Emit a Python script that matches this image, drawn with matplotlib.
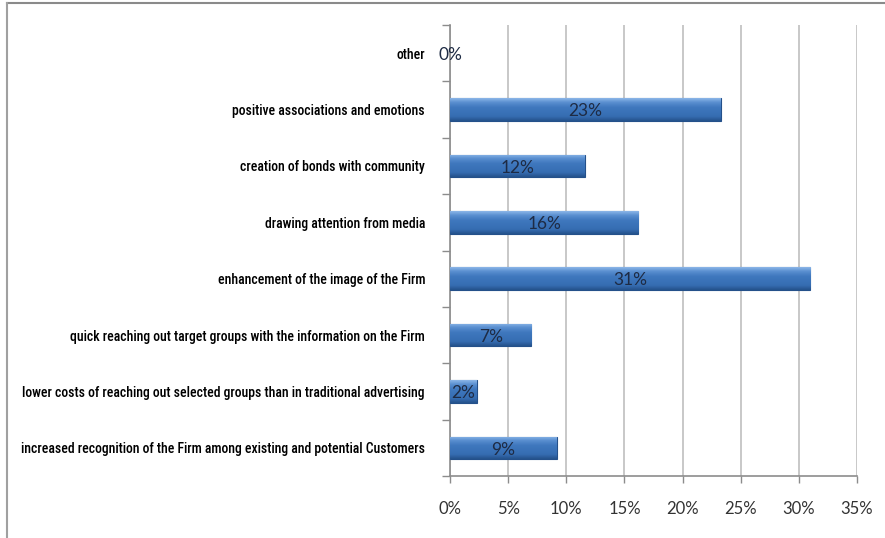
import matplotlib
matplotlib.use("Agg")
import matplotlib.pyplot as plt
import numpy as np
from matplotlib.lines import Line2D
from matplotlib.colors import LinearSegmentedColormap
from matplotlib import font_manager

# data (top to bottom as shown)
categories = [
    "other",
    "positive associations and emotions",
    "creation of bonds with community",
    "drawing attention from media",
    "enhancement of the image of the Firm",
    "quick reaching out target groups with the information on the Firm",
    "lower costs of reaching out selected groups than in traditional advertising",
    "increased recognition of the Firm among existing and potential Customers",
]
values = [0.0, 23.3, 11.6, 16.2, 31.0, 7.0, 2.3, 9.2]
bar_labels = ["0%", "23%", "12%", "16%", "31%", "7%", "2%", "9%"]
x_ticks = [0, 5, 10, 15, 20, 25, 30, 35]

# pick a condensed face if one is installed
names = {f.name for f in font_manager.fontManager.ttflist}
narrow = None
for cand in ["Liberation Sans Narrow", "DejaVu Sans Condensed", "Roboto Condensed",
             "Open Sans Condensed"]:
    if cand in names:
        narrow = cand
        break
cat_font = dict(family=[narrow or "DejaVu Sans", "DejaVu Sans"])
cat_size = 9.9 if narrow else 8.3
if narrow is None:
    cat_font["stretch"] = "condensed"

W, H = 885, 538
fig = plt.figure(figsize=(W / 100, H / 100), dpi=100)
ax = fig.add_axes([450 / W, 1 - 476 / H, (857 - 450) / W, (476 - 25) / H])

ypos = np.arange(len(categories))
bar_h = 0.4
bars = ax.barh(ypos, values, height=bar_h, color="#3D74B8",
               edgecolor="#24508A", linewidth=0.8, zorder=3)

# glossy gradient fill clipped to each bar (light top, dark bottom)
grad_cmap = LinearSegmentedColormap.from_list(
    "bevel", [(0, "#8CB6E8"), (0.18, "#5A8FD0"), (0.4, "#3F78BE"),
              (0.8, "#366DB2"), (1, "#24528C")])
grad = np.linspace(0, 1, 64).reshape(-1, 1)
for b, v, y in zip(bars, values, ypos):
    if v <= 0:
        b.set_visible(False)
        continue
    im = ax.imshow(grad, extent=[0, v, y + bar_h / 2, y - bar_h / 2],
                   aspect="auto", cmap=grad_cmap, origin="upper", zorder=3.5)
    im.set_clip_path(b)

for v, y, lab in zip(values, ypos, bar_labels):
    ax.text(v / 2, y + 0.03, lab, ha="center", va="center", fontsize=12.5,
            family=["Lato", "DejaVu Sans"], color="#1E2B44", zorder=5)

ax.set_xlim(0, 35)
ax.set_ylim(len(categories) - 0.5, -0.5)
ax.set_xticks(x_ticks)
ax.set_xticklabels([f"{t}%" for t in x_ticks], family=["Lato", "DejaVu Sans"],
                   fontsize=12, color="#333333")
ax.set_yticks(ypos)
ax.set_yticklabels(categories, fontsize=cat_size, color="#000000",
                   weight="medium", **cat_font)
ax.set_yticks(np.arange(len(categories) + 1) - 0.5, minor=True)
ax.tick_params(axis="y", which="major", length=0, pad=18)
ax.tick_params(axis="y", which="minor", length=6, color="#8C8C8C", width=1)
ax.tick_params(axis="x", length=5, color="#8C8C8C", width=1, pad=13)

ax.grid(axis="x", color="#C4C4C4", linewidth=1.3, zorder=0)
ax.set_axisbelow(True)
for s in ["top", "right"]:
    ax.spines[s].set_visible(False)
for s in ["left", "bottom"]:
    ax.spines[s].set_color("#8C8C8C")
    ax.spines[s].set_linewidth(1.2)

# page border lines
fig.add_artist(Line2D([7 / W, 1], [1 - 3 / H, 1 - 3 / H], color="#8A8A8A", lw=1.5))
fig.add_artist(Line2D([7 / W, 7 / W], [0, 1 - 3 / H], color="#A0A0A0", lw=1.5))

fig.savefig("out.png", dpi=100)
